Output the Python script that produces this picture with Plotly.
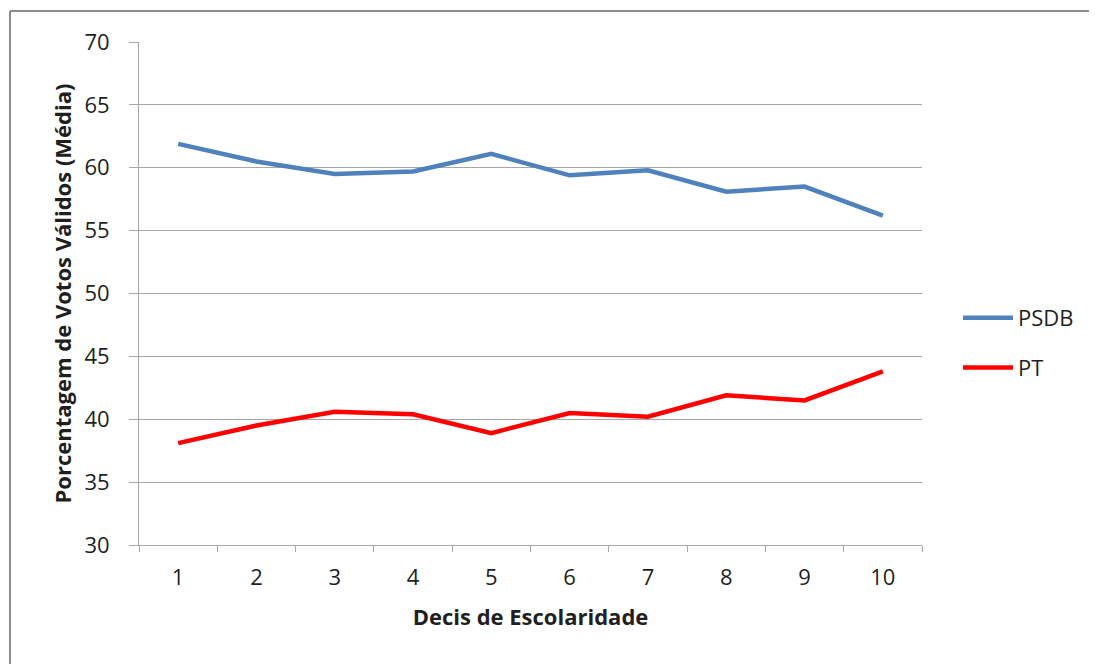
import plotly.graph_objects as go

deciles = [1, 2, 3, 4, 5, 6, 7, 8, 9, 10]
psdb = [61.9, 60.5, 59.5, 59.7, 61.1, 59.4, 59.8, 58.1, 58.5, 56.2]
pt = [38.1, 39.5, 40.6, 40.4, 38.9, 40.5, 40.2, 41.9, 41.5, 43.8]
y_ticks = [30, 35, 40, 45, 50, 55, 60, 65, 70]

# page body has an 8px margin; work in figure pixel coordinates
OFF = 8
W, H = 1097 - OFF, 664 - OFF
L, R, T, B = 139 - OFF, 922 - OFF, 42 - OFF, 545 - OFF

def px_x(px):
    return (px - OFF - L) / (R - L)

def px_y(py):
    return (B - (py - OFF)) / (B - T)

FONT = "Open Sans"
GRID = "#A6A6A6"
TXT = "#1f1f1f"

fig = go.Figure()
fig.add_trace(go.Scatter(x=deciles, y=psdb, mode="lines", name="PSDB",
                         line=dict(color="#4F81BD", width=4.5), legendgroup="a"))
fig.add_trace(go.Scatter(x=deciles, y=pt, mode="lines", name="PT",
                         line=dict(color="#FF0000", width=4.5), legendgroup="b"))

fig.update_layout(
    width=W, height=H,
    margin=dict(l=L, r=W - R, t=T, b=H - B, autoexpand=False),
    paper_bgcolor="white", plot_bgcolor="white",
    font=dict(family=FONT, color=TXT),
    showlegend=True,
    legend=dict(x=px_x(958), y=px_y(297), xanchor="left", yanchor="top",
                font=dict(size=22, family=FONT, color=TXT),
                itemwidth=50, tracegroupgap=18, traceorder="grouped",
                bgcolor="rgba(0,0,0,0)"),
    xaxis=dict(range=[0.5, 10.5], tickvals=deciles, ticktext=[str(d) for d in deciles],
               ticks="", showgrid=False, showline=True, linecolor=GRID, linewidth=1,
               tickfont=dict(size=22, family=FONT, color=TXT),
               ticklabelstandoff=13,
               minor=dict(tickvals=[d - 0.5 for d in deciles] + [10.5], ticks="outside",
                          ticklen=6, tickcolor=GRID, showgrid=False),
               title=dict(text="<b>Decis de Escolaridade</b>", font=dict(size=22, family=FONT, color=TXT),
                          standoff=19),
               zeroline=False, fixedrange=True),
    yaxis=dict(range=[30, 70], tickvals=y_ticks, ticks="outside", ticklen=9, tickcolor=GRID,
               showgrid=True, gridcolor=GRID, gridwidth=1, showline=True, linecolor=GRID,
               linewidth=1, zeroline=False,
               tickfont=dict(size=22, family=FONT, color=TXT),
               ticklabelstandoff=15,
               title=dict(text="<b>Porcentagem de Votos Válidos (Média)</b>",
                          font=dict(size=22, family=FONT, color=TXT), standoff=6),
               fixedrange=True),
)

border = dict(color="#8C8C8C", width=2)
fig.add_shape(type="line", xref="paper", yref="paper", x0=px_x(10), x1=px_x(1100),
              y0=px_y(11), y1=px_y(11), line=border, layer="above")
fig.add_shape(type="line", xref="paper", yref="paper", x0=px_x(10), x1=px_x(10),
              y0=px_y(11), y1=px_y(670), line=border, layer="above")

fig.write_html("out.html")
